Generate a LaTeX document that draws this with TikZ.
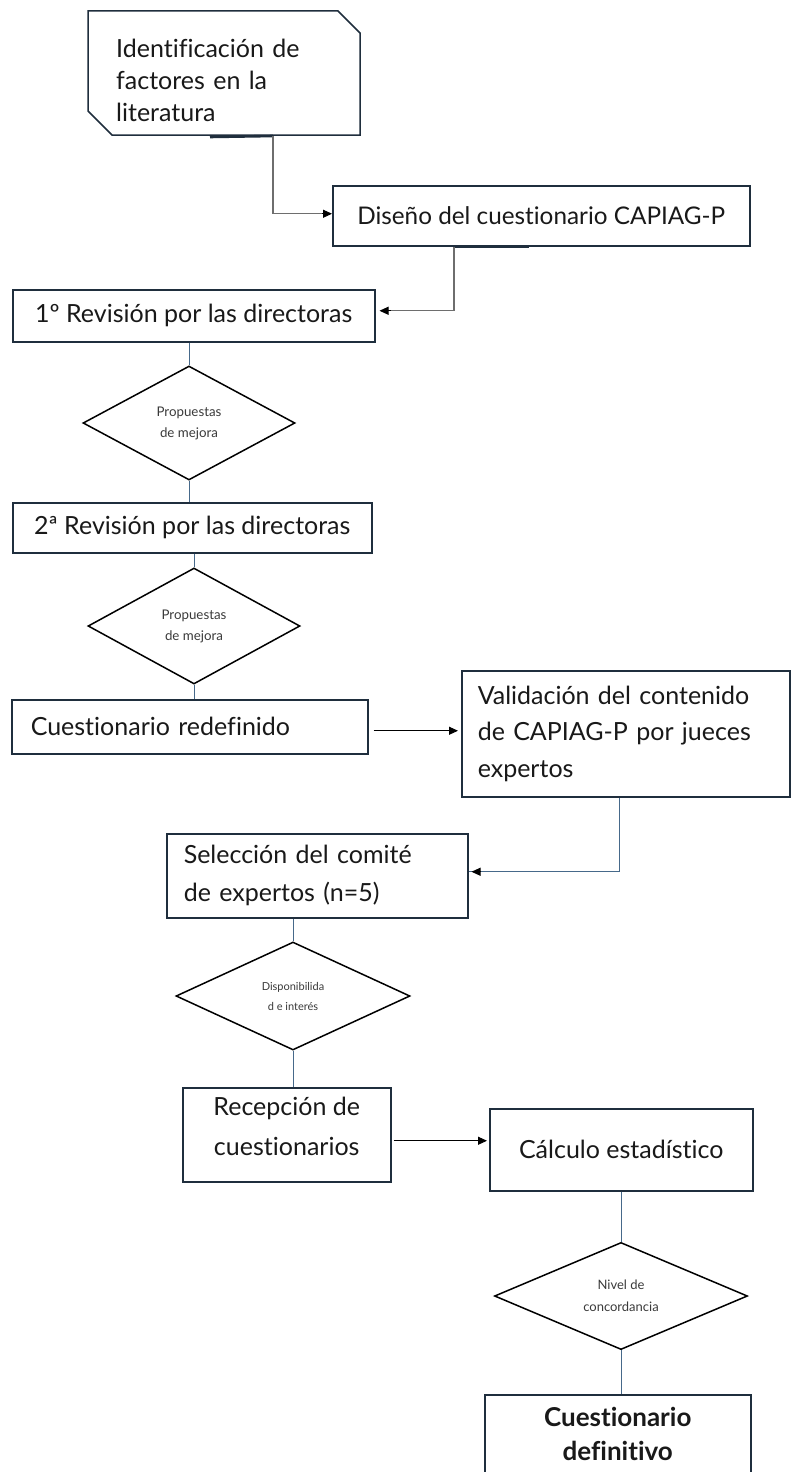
\documentclass[tikz,border=0pt]{standalone}
\usepackage{fontspec}
\setmainfont{Lato}[Ligatures=NoCommon]
\usetikzlibrary{arrows.meta,shapes.geometric}
\definecolor{boxc}{HTML}{1F2E3D}
\definecolor{conn}{HTML}{6E6E6E}
\definecolor{vline}{HTML}{46698A}
\definecolor{dtext}{HTML}{3A3A3A}
\begin{document}
\begin{tikzpicture}[x=1pt,y=-1pt,
  box/.style={draw=boxc,line width=1.5pt,inner sep=0pt,align=center,anchor=north west,
    font=\fontsize{25}{33}\selectfont,text=black!90},
  lbox/.style={box,align=left},
  txt/.style={inner sep=0pt,align=center,text=black!90},
  dia/.style={diamond,draw=black,line width=1.5pt,inner sep=0pt,align=center,text=dtext},
  vl/.style={vline,line width=0.9pt},
  elbow/.style={conn,line width=1.4pt},
  blkarrow/.style={black,line width=1pt,-{Triangle[length=9pt,width=8pt]}},
  stub/.style={boxc,line width=2.6pt}]
\useasboundingbox (0,0) rectangle (790,1472);
\fill[white] (0,0) rectangle (790,1472);

% card outline
\coordinate (c1) at (88,11);
\coordinate (c2) at (338,11);
\coordinate (c3) at (360,33);
\coordinate (c4) at (360,135);
\coordinate (c5) at (112,135);
\coordinate (c6) at (88,111);
\draw[boxc,line width=1.5pt,line join=miter] (c1) -- (c2) -- (c3) -- (c4) -- (c5) -- (c6) -- cycle;
\node[anchor=west,inner sep=0pt,text width=240pt,align=left,font=\fontsize{25}{32}\selectfont,text=black!90]
  (card) at (116,80) {Identificación de\\factores en la\\literatura};
\coordinate (cardb) at (273,136);

\node[box,minimum width=417pt,minimum height=60pt,font=\fontsize{24.3}{33}\selectfont] (dis) at (332,185) {Diseño del cuestionario CAPIAG-P};
\node[box,minimum width=362pt,minimum height=52pt] (rev1) at (12,289) {1º Revisión por las directoras};
\node[dia,minimum width=212pt,minimum height=114pt,font=\fontsize{13.3}{21}\selectfont] (d1) at (189,423) {Propuestas\\de mejora};
\node[box,minimum width=359pt,minimum height=50pt] (rev2) at (12,502) {2ª Revisión por las directoras};
\node[dia,minimum width=212pt,minimum height=116pt,font=\fontsize{13.3}{21}\selectfont] (d2) at (194,626) {Propuestas\\de mejora};
\node[lbox,minimum width=356pt,minimum height=54pt,inner xsep=19pt,text width=318pt] (cues) at (11,699) {Cuestionario redefinido};
\node[lbox,minimum width=328pt,minimum height=126pt,inner xsep=16pt,text width=296pt,font=\fontsize{25}{36.5}\selectfont] (val) at (461,670) {Validación del contenido\\de CAPIAG-P por jueces\\expertos};
\node[lbox,minimum width=301pt,minimum height=84pt,inner xsep=17pt,text width=267pt,font=\fontsize{25}{38}\selectfont] (sel) at (166,833) {Selección del comité\\de expertos (n=5)};
\node[dia,minimum width=234pt,minimum height=108pt,font=\fontsize{11}{20}\selectfont] (d3) at (293,996) {Disponibilida\\d e interés};
\node[box,minimum width=208pt,minimum height=94pt] (rec) at (182,1087) {};
\node[txt,font=\fontsize{25}{40}\selectfont] (rectxt) at ([yshift=8pt]rec.center) {Recepción de\\cuestionarios};
\node[box,minimum width=263pt,minimum height=82pt] (calc) at (489,1108) {Cálculo estadístico};
\node[dia,minimum width=253pt,minimum height=104pt,font=\fontsize{13}{22}\selectfont] (d4) at (621,1296) {Nivel de\\concordancia};
\node[box,minimum width=266pt,minimum height=78pt,font=\bfseries\fontsize{26}{34}\selectfont] (fin) at (484,1394) {Cuestionario\\definitivo};

% stubs under shapes
\draw[stub] (210,137) -- (cardb);
\draw[stub] ([xshift=122pt]dis.south west) -- ([xshift=197pt]dis.south west);

% connectors
\draw[elbow] (cardb) |- ([yshift=2pt,xshift=-9pt]dis.west);
\draw[blkarrow] ([yshift=2pt,xshift=-10pt]dis.west) -- ([yshift=2pt]dis.west);
\draw[elbow] ([xshift=122pt]dis.south west) |- ([yshift=5pt,xshift=14pt]rev1.east);
\draw[blkarrow] ([yshift=5pt,xshift=15pt]rev1.east) -- ([yshift=5pt,xshift=4pt]rev1.east);

\draw[vl] (d1.north |- rev1.south) -- (d1.north);
\draw[vl] (d1.south) -- (d1.south |- rev2.north);
\draw[vl] (d2.north |- rev2.south) -- (d2.north);
\draw[vl] (d2.south) -- (d2.south |- cues.north);

\draw[blkarrow,shorten <=5pt,shorten >=3pt] ([yshift=-4pt]cues.east) -- ([yshift=-4pt]cues.east -| val.west);
\draw[vl] ([xshift=-6pt]val.south) |- ([yshift=4pt]sel.east);
\draw[blkarrow,shorten >=3pt] ([yshift=4pt,xshift=12pt]sel.east) -- ([yshift=4pt]sel.east);

\draw[vl] (d3.north |- sel.south) -- (d3.north);
\draw[vl] (d3.south) -- (d3.south |- rec.north);

\draw[blkarrow,shorten <=2pt,shorten >=2pt] ([yshift=-6pt]rec.east) -- ([yshift=-6pt]rec.east -| calc.west);

\draw[vl] (d4.north |- calc.south) -- (d4.north);
\draw[vl] (d4.south) -- (d4.south |- fin.north);
\end{tikzpicture}
\end{document}
